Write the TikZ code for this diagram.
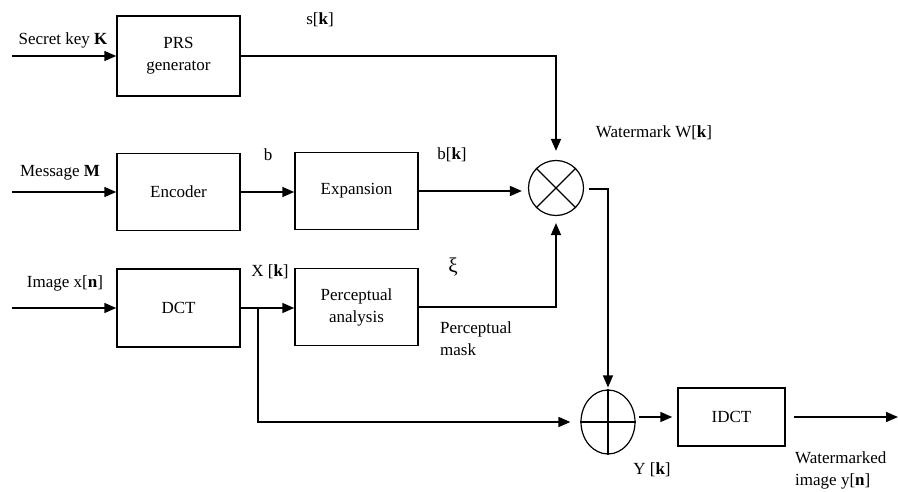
\documentclass[tikz,border=0pt]{standalone}
\usepackage{fontspec}
\setmainfont{Liberation Serif}
\usetikzlibrary{arrows.meta,shapes.geometric}
\begin{document}
\begin{tikzpicture}[x=1pt,y=-1pt,
  font=\fontsize{17}{22}\selectfont,
  blk/.style={draw,line width=1.5pt,minimum width=123pt,align=center,inner sep=0pt},
  sig/.style={line width=1.6pt,-{Triangle[length=12pt,width=10pt]}},
  lbl/.style={inner sep=0pt,align=left}]
\useasboundingbox (0,0) rectangle (898,492);
% blocks
\node[blk,minimum height=80pt] (prs) at (178.5,56) {PRS\\generator};
\node[blk,minimum height=77pt] (enc) at (178.5,192) {Encoder};
\node[blk,minimum height=77pt] (exp) at (356.5,191) {Expansion};
\node[blk,minimum height=78pt] (dct) at (178.5,308) {DCT};
\node[blk,minimum height=77pt] (per) at (356.5,307) {Perceptual\\analysis};
\node[blk,minimum width=107pt,minimum height=58pt] (idct) at (731.5,417) {IDCT};
\node[draw,circle,line width=1.2pt,minimum size=55pt,inner sep=0pt] (mul) at (556,188) {};
\draw[line width=1.2pt] (mul.north west) -- (mul.south east) (mul.north east) -- (mul.south west);
\node[draw,ellipse,line width=1.2pt,minimum width=54pt,minimum height=64pt,inner sep=0pt] (add) at (608,422) {};
\draw[line width=1.2pt] (add.north) -- (add.south) (add.west) -- (add.east);
% coordinates
\coordinate (kin) at (12,56);
\coordinate (min) at (12,192);
\coordinate (iin) at (12,308);
\coordinate (br) at (258,308);
\coordinate (wk) at (608,189);
\coordinate (out) at (898,417);
% labels
\node[lbl] (lk) at (63,40) {Secret key \textbf{K}};
\node[lbl] (ls) at (320,20) {s[\textbf{k}]};
\node[lbl] (lm) at (60,173) {Message \textbf{M}};
\node[lbl] (lb) at (268,155) {b};
\node[lbl] (lbk) at (452,155) {b[\textbf{k}]};
\node[lbl] (lw) at (654,133) {Watermark W[\textbf{k}]};
\node[lbl,font=\fontsize{21}{22}\selectfont] (lxi) at (453,267) {ξ};
\node[lbl] (li) at (65,283) {Image x[\textbf{n}]};
\node[lbl] (lx) at (270,272) {X [\textbf{k}]};
\node[lbl,anchor=north west] (lpm) at (440,322) {Perceptual\\mask};
\node[lbl] (ly) at (652,470) {Y [\textbf{k}]};
\node[lbl,anchor=west] (lwm) at (795,470) {Watermarked\\image y[\textbf{n}]};
% connectors
\draw[sig] (kin) -- (prs.west);
\draw[sig] (min) -- (enc.west);
\draw[sig] (iin) -- (dct.west);
\draw[sig] (enc.east) -- (enc.east -| exp.west);
\draw[sig] (dct.east) -- (dct.east -| per.west);
\draw[sig,shorten >=9pt] (prs.east) -| (mul.north);
\draw[sig,shorten >=6pt] (exp.east) -- (exp.east -| mul.west);
\draw[sig,shorten >=7pt] (per.east) -| (mul.south);
\draw[sig,line width=1.3pt,shorten >=2pt] ([xshift=5pt]mul.east |- wk) -- (wk) -- (add.north);
\draw[sig,shorten >=10pt] (br) |- (add.west);
\draw[sig] ([xshift=3pt]add.east |- idct.west) -- ([xshift=-5pt]idct.west);
\draw[sig] ([xshift=8pt]idct.east) -- (out);
\end{tikzpicture}
\end{document}
